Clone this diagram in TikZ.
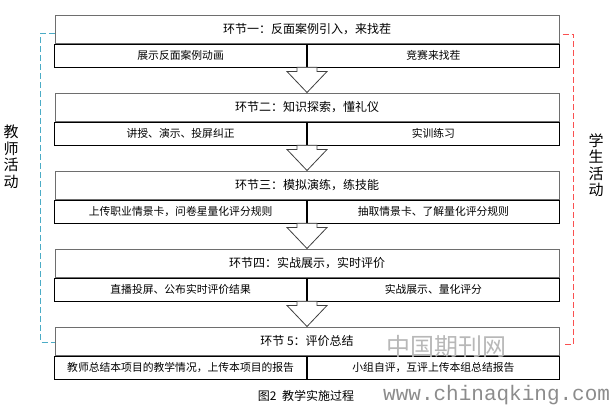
\documentclass[tikz,border=0pt]{standalone}
\usepackage{fontspec}
\setmainfont{Noto Sans CJK SC}
\newfontfamily\urlfont{Liberation Mono}
\usetikzlibrary{calc}
\definecolor{teachdash}{RGB}{75,172,198}
\definecolor{learndash}{RGB}{250,80,80}
\definecolor{boxgray}{RGB}{110,110,110}

\begin{document}
\begin{tikzpicture}[x=1pt,y=-1pt,
  headbox/.style={draw=boxgray, line width=1pt, minimum width=504pt, minimum height=28pt,
    inner sep=0pt, font=\fontsize{12}{14}\selectfont},
  cellbox/.style={draw, line width=0.8pt, minimum width=252pt, minimum height=23pt,
    inner sep=0pt, font=\fontsize{10.8}{12}\selectfont},
  flowarrow/.style={draw=black!75, fill=white, line width=0.8pt},
  sidetext/.style={align=center, font=\fontsize{15}{16.5}\selectfont},
  bracket/.style={line width=0.9pt, dash pattern=on 6pt off 3pt}]
  \useasboundingbox (0,0) rectangle (612,405);
  \foreach \i/\head/\lt/\rt in {1/{环节一：反面案例引入，来找茬}/{展示反面案例动画}/{竞赛来找茬},
    2/{环节二：知识探索，懂礼仪}/{讲授、演示、投屏纠正}/{实训练习},
    3/{环节三：模拟演练，练技能}/{上传职业情景卡，问卷星量化评分规则}/{抽取情景卡、了解量化评分规则},
    4/{环节四：实战展示，实时评价}/{直播投屏、公布实时评价结果}/{实战展示、量化评分},
    5/{环节 5：评价总结}/{教师总结本项目的教学情况，上传本项目的报告}/{小组自评，互评上传本组总结报告}}
  {
    \pgfmathsetmacro\ytop{15+78*(\i-1)}
    \node[headbox] (h\i) at (307,\ytop+14) {\head};
    \node[cellbox, anchor=north east] (l\i) at (h\i.south) {\lt};
    \node[cellbox, anchor=north west] (r\i) at (h\i.south) {\rt};
  }
  \foreach \i [evaluate=\i as \j using int(\i+1)] in {1,...,4}
  {
    \path[flowarrow] ($(l\i.south east)+(-10,0)$) -- ($(h\j.north)+(-10,-21)$) -- ++(-10,0)
      -- (h\j.north) -- ++(20,-21) -- ++(-10,0) -- ($(l\i.south east)+(10,0)$) -- cycle;
  }
  \draw[bracket, teachdash] ([yshift=-4pt]h1.west) -- ++(-14,0) |- ([yshift=-1pt]h5.west);
  \draw[bracket, learndash] ([xshift=3pt,yshift=-5pt]h1.east) -- ++(11,0) |- ([xshift=3pt,yshift=-3pt]h5.east);
  \node[sidetext] (teach) at (11,157) {教\\师\\活\\动};
  \node[sidetext] (learn) at (596,165) {学\\生\\活\\动};
  \node[font=\fontsize{12}{14}\selectfont] (caption) at (306,396) {图2\ \ 教学实施过程};
  \node[text=black!28, font=\fontsize{24}{26}\selectfont] (mark) at (446,346) {中国期刊网};
  \node[text=black!45, font=\urlfont\fontsize{21}{22}\selectfont, anchor=west, inner sep=0pt] (site) at (383,395) {www.chinaqking.com};
\end{tikzpicture}
\end{document}
